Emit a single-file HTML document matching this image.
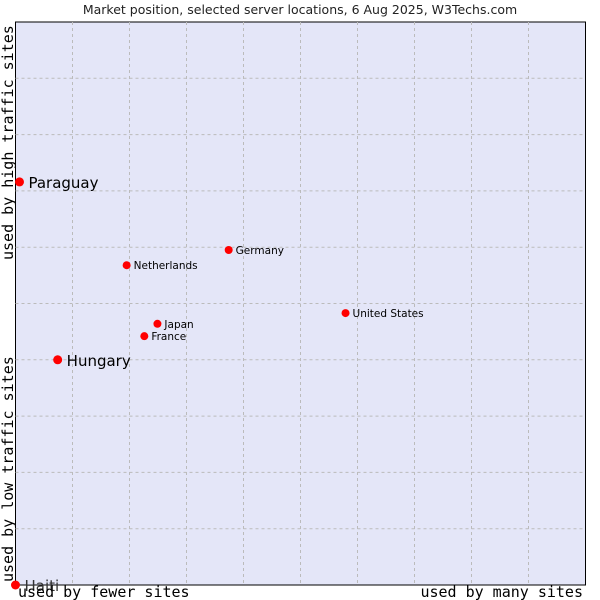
<!DOCTYPE html>
<html><head><meta charset="utf-8"><style>body{margin:0;background:#fff}svg{display:block}</style></head>
<body>
<svg id="chart" width="600" height="600" xmlns="http://www.w3.org/2000/svg">
<text x="300" y="14" text-anchor="middle" font-family="DejaVu Sans, sans-serif" font-size="12.5" fill="#222">Market position, selected server locations, 6 Aug 2025, W3Techs.com</text>
<rect x="15.5" y="22" width="570" height="563" fill="#e4e6f8" stroke="#000" stroke-width="1"/>
<g id="grid"></g>
<g id="marks"></g>
<text transform="translate(13,260) rotate(-90)" font-family="DejaVu Sans Mono, monospace" font-size="15" fill="#000">used by high traffic sites</text>
<text transform="translate(13,582) rotate(-90)" font-family="DejaVu Sans Mono, monospace" font-size="15" fill="#000">used by low traffic sites</text>
<text x="18" y="597" font-family="DejaVu Sans Mono, monospace" font-size="15" fill="#000">used by fewer sites</text>
<text x="583" y="597" text-anchor="end" font-family="DejaVu Sans Mono, monospace" font-size="15" fill="#000">used by many sites</text>
</svg>
<script>
const countries = ["Paraguay","Hungary","Haiti","Netherlands","Germany","Japan","France","United States"];
const usage = [0.7, 7.4, 0, 19.5, 37.4, 24.9, 22.6, 57.9];
const traffic = [71.6, 40.0, 0, 56.8, 59.5, 46.4, 44.2, 48.3];
const big = [true, true, true, false, false, false, false, false];
const NS="http://www.w3.org/2000/svg";
const L=15.5,T=22,W=570,H=563;
const xs=v=>L+v/100*W, ys=v=>T+H-v/100*H;
const grid=document.getElementById('grid'), marks=document.getElementById('marks');
for(let i=1;i<10;i++){
  let l=document.createElementNS(NS,'line');
  
  
  let x=xs(i*10);l.setAttribute('x1',x);l.setAttribute('x2',x);l.setAttribute('y1',T);l.setAttribute('y2',T+H);
  l.setAttribute('stroke','#bbb');l.setAttribute('stroke-dasharray','3,3');grid.appendChild(l);
  let h=document.createElementNS(NS,'line');
  
  
  let y=ys(i*10);h.setAttribute('x1',L);h.setAttribute('x2',L+W);h.setAttribute('y1',y);h.setAttribute('y2',y);
  h.setAttribute('stroke','#bbb');h.setAttribute('stroke-dasharray','3,3');grid.appendChild(h);
}
countries.forEach((c,i)=>{
  const x=xs(usage[i]),y=ys(traffic[i]);
  const p=document.createElementNS(NS,'circle');
  
  
  p.setAttribute('cx',x);p.setAttribute('cy',y);p.setAttribute('r',big[i]?4.5:4);p.setAttribute('fill','#f00');
  marks.appendChild(p);
  const t=document.createElementNS(NS,'text');
  
  
  t.setAttribute('x',x+(big[i]?9:7));t.setAttribute('y',y+(big[i]?6:4));
  t.setAttribute('font-family','DejaVu Sans, sans-serif');t.setAttribute('font-size',big[i]?15:10.5);
  t.setAttribute('fill',c==="Haiti"?'#333':'#000');t.textContent=c;marks.appendChild(t);
});
</script>
</body></html>
